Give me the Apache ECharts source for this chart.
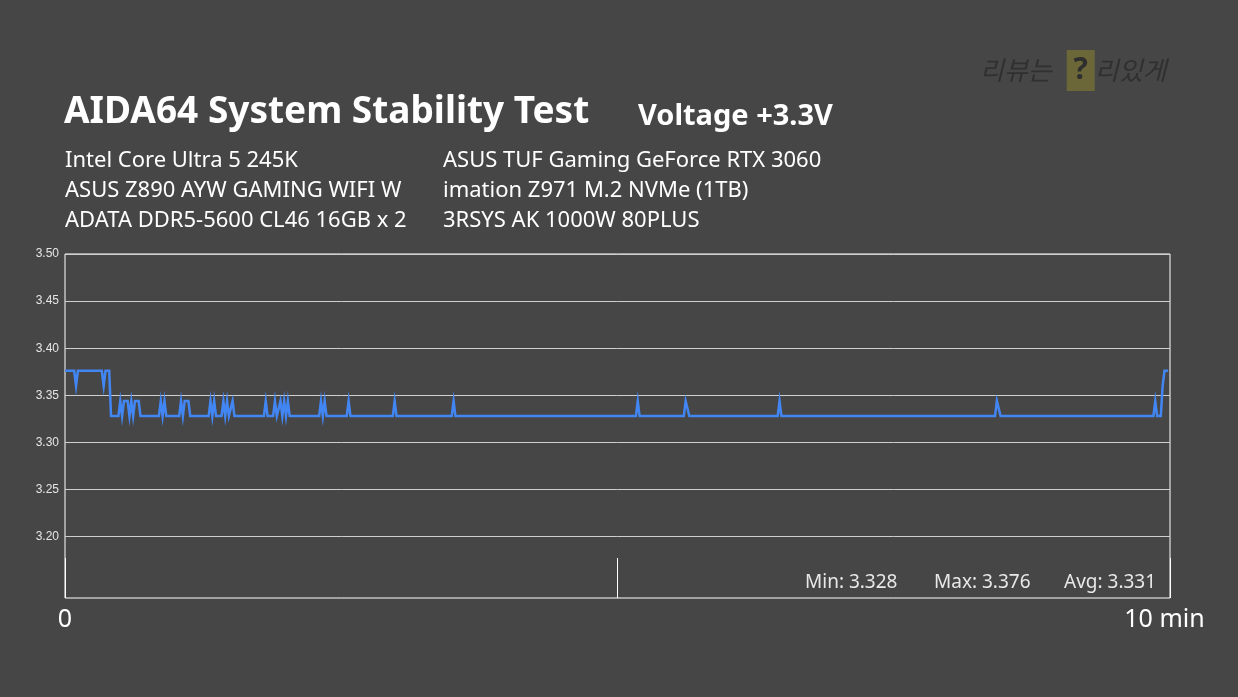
<!DOCTYPE html>
<html>
<head>
<meta charset="utf-8">
<script src="https://cdn.jsdelivr.net/npm/echarts@6/dist/echarts.min.js"></script>
<style>
html,body{margin:0;padding:0;background:#464646;}
#c{width:1238px;height:697px;}
</style>
</head>
<body>
<div id="c"></div>
<script>
// sample index (seconds) of each change point, and voltage at that point
var sampleTimes = [0,5,6,7,20,21,22,24,25,
  29,30,31,32,34,35,36,37,38,40,41,
  51,52,53,54,55,
  62,63,64,65,67,68,
  78,79,80,81,82,
  85,86,87,88,89,90,91,92,
  108,109,110,
  113,114,115,116,117,118,119,120,121,122,
  138,139,140,141,142,
  153,154,155,
  178,179,180,
  210,211,212,
  310,311,312,
  336,337,338,339,
  387,388,389,
  505,506,507,508,
  591,592,593,595,596,597,599];
var voltages = [3.376,3.376,3.360,3.376,3.376,3.360,3.376,3.376,3.328,
  3.328,3.344,3.328,3.344,3.344,3.328,3.344,3.328,3.344,3.344,3.328,
  3.328,3.344,3.328,3.344,3.328,
  3.328,3.344,3.328,3.344,3.344,3.328,
  3.328,3.344,3.328,3.344,3.328,
  3.328,3.344,3.328,3.344,3.328,3.328,3.344,3.328,
  3.328,3.344,3.328,
  3.328,3.344,3.328,3.328,3.344,3.328,3.344,3.328,3.344,3.328,
  3.328,3.344,3.328,3.344,3.328,
  3.328,3.344,3.328,
  3.328,3.344,3.328,
  3.328,3.344,3.328,
  3.328,3.344,3.328,
  3.328,3.344,3.344,3.328,
  3.328,3.344,3.328,
  3.328,3.344,3.344,3.328,
  3.328,3.344,3.328,3.328,3.360,3.376,3.376];
var yTickValues = [3.20,3.25,3.30,3.35,3.40,3.45,3.50];
var xTickLabels = {0:'0', 600:'{r|10 min}'};
var statsLabels = ['Min: 3.328','Max: 3.376','Avg: 3.331'];
var specLeft = ['Intel Core Ultra 5 245K','ASUS Z890 AYW GAMING WIFI W','ADATA DDR5-5600 CL46 16GB x 2'];
var specRight = ['ASUS TUF Gaming GeForce RTX 3060','imation Z971 M.2 NVMe (1TB)','3RSYS AK 1000W 80PLUS'];

var seriesData = sampleTimes.map(function(t,i){return [t, voltages[i]];});

var chart = echarts.init(document.getElementById('c'), null, {renderer:'canvas'});
var graphics = [
  {type:'text', left:64, top:94, style:{text:'AIDA64 System Stability Test', font:'bold 37px "Noto Sans"', fill:'#ffffff'}},
  {type:'text', left:638, top:102, style:{text:'Voltage +3.3V', font:'bold 29px "Noto Sans"', fill:'#ffffff'}},
  {type:'text', left:980, top:50, style:{
    text:'{a|리뷰는}{s| }{b|?}{a|리있게}',
    rich:{
      a:{font:'italic 26px "Noto Sans CJK KR"', fill:'#303030', lineHeight:41},
      s:{font:'26px "Noto Sans"', width:15},
      b:{font:'bold 30px "Noto Sans"', fill:'#2e2e2e', backgroundColor:'#6b6739', width:28, height:41, align:'center', lineHeight:41}
    }}}
];
specLeft.forEach(function(s,i){
  graphics.push({type:'text', left:65, top:150+i*30, style:{text:s, font:'22px "Noto Sans"', fill:'#ffffff'}});
});
specRight.forEach(function(s,i){
  graphics.push({type:'text', left:443, top:150+i*30, style:{text:s, font:'22px "Noto Sans"', fill:'#ffffff'}});
});
var statX = [805, 934, 1064];
statsLabels.forEach(function(s,i){
  graphics.push({type:'text', left:statX[i], top:573, style:{text:s, font:'19px "Noto Sans"', fill:'#e8e8e8'}});
});

chart.setOption({
  backgroundColor:'#464646',
  animation:false,
  graphic:graphics,
  grid:{left:65, right:68, top:254, bottom:99, show:true, borderColor:'#ffffff', borderWidth:1, containLabel:false},
  xAxis:{
    type:'value', min:0, max:600, interval:300,
    axisLine:{show:false},
    axisTick:{show:true, inside:true, length:40, lineStyle:{color:'#ffffff', width:1}},
    splitLine:{show:false},
    axisLabel:{color:'#ffffff', fontSize:25, fontFamily:'Noto Sans', margin:9,
      rich:{r:{fontSize:25, fontFamily:'Noto Sans', color:'#ffffff', padding:[0,11,0,0]}},
      formatter:function(v){return xTickLabels[v]!==undefined?xTickLabels[v]:'';}}
  },
  yAxis:{
    type:'value', min:3.135, max:3.5,
    axisLine:{show:false},
    axisTick:{show:false, customValues:yTickValues},
    axisLabel:{customValues:yTickValues, color:'#e6e6e6', fontSize:12, fontFamily:'Liberation Sans', margin:6,
      formatter:function(v){return v.toFixed(2);}},
    splitLine:{show:true, lineStyle:{color:'#cfcfcf', width:1}}
  },
  series:[{
    type:'line', data:seriesData, symbol:'none', silent:true,
    lineStyle:{color:'#4286f4', width:2.5, join:'miter', miterLimit:10}
  }]
});
</script>
</body>
</html>
